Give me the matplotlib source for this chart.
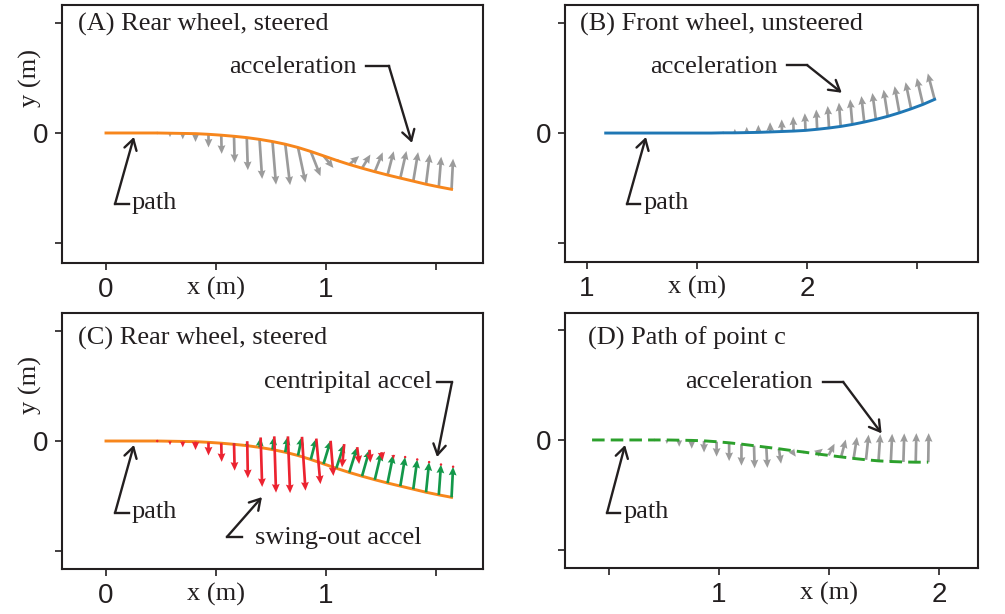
import numpy as np
import matplotlib.pyplot as plt

plt.rcParams['font.family'] = 'Liberation Serif'
ink = '#231f20'

# (A) rear wheel, steered: path points and total acceleration at each point
a_x = [0.000, 0.058, 0.116, 0.175, 0.233, 0.291, 0.349, 0.407, 0.466, 0.524, 0.582, 0.640, 0.698, 0.757,
       0.815, 0.873, 0.931, 0.989, 1.047, 1.106, 1.164, 1.222, 1.280, 1.338, 1.397, 1.455, 1.513, 1.571]
a_y = [0.000, 0.000, 0.000, 0.000, 0.000, -0.001, -0.002, -0.003, -0.006, -0.010, -0.015, -0.021, -0.029, -0.039,
       -0.051, -0.066, -0.084, -0.104, -0.124, -0.143, -0.160, -0.176, -0.191, -0.205, -0.219, -0.233, -0.245, -0.256]
a_ax = [0.0, 0.0, 0.0, 0.0, 0.0, 0.0, 0.0, 0.0, 0.0, 0.002, 0.003, 0.005, 0.012, 0.016,
        0.022, 0.034, 0.044, 0.045, 0.012, 0.045, 0.038, 0.036, 0.028, 0.028, 0.022, 0.017, 0.011, 0.007]
a_ay = [0.0, 0.0, 0.0, 0.0, -0.012, -0.018, -0.027, -0.038, -0.060, -0.085, -0.120, -0.148, -0.180, -0.196,
        -0.186, -0.160, -0.112, -0.055, 0.004, 0.038, 0.062, 0.088, 0.108, 0.123, 0.132, 0.137, 0.137, 0.139]

# (C) same path, split into centripetal (green) and swing-out (red, drawn from green tip)
cen_x = [0.0, 0.0, 0.0, 0.0, 0.0, 0.0, 0.0, 0.0, 0.0, 0.0, 0.0, 0.002, 0.005, 0.008,
         0.012, 0.018, 0.025, 0.032, 0.036, 0.036, 0.034, 0.030, 0.026, 0.022, 0.018, 0.014, 0.010, 0.007]
cen_y = [0.0, 0.0, 0.0, 0.0, 0.0, 0.0, 0.0, 0.0, 0.0, 0.0, 0.005, 0.020, 0.045, 0.060,
         0.072, 0.085, 0.095, 0.105, 0.110, 0.115, 0.120, 0.125, 0.128, 0.132, 0.135, 0.137, 0.138, 0.139]
swg_x = [0.0, 0.0, 0.0, 0.0, 0.0, 0.0, 0.0, 0.0, 0.0, 0.002, 0.003, 0.003, 0.007, 0.008,
         0.010, 0.016, 0.019, 0.013, -0.010, 0.009, 0.004, 0.006, 0.002, 0.006, 0.004, 0.003, 0.001, 0.0]
swg_y = [0.0, 0.0, 0.0, 0.0, -0.012, -0.018, -0.027, -0.038, -0.060, -0.085, -0.125, -0.168, -0.225, -0.256,
         -0.258, -0.245, -0.207, -0.160, -0.106, -0.077, -0.058, -0.037, -0.020, -0.009, -0.004, -0.004, -0.004, -0.004]

# (B) front wheel, unsteered
b_x = [1.085, 1.138, 1.192, 1.245, 1.299, 1.352, 1.405, 1.459, 1.512, 1.566, 1.619, 1.672, 1.726, 1.779, 1.833,
       1.886, 1.939, 1.993, 2.046, 2.100, 2.153, 2.206, 2.260, 2.313, 2.367, 2.420, 2.473, 2.527, 2.580]
b_y = [0.0, 0.0, 0.0, 0.0, 0.0, 0.0, 0.0, 0.0, 0.0, 0.0, 0.001, 0.001, 0.002, 0.003, 0.005,
       0.007, 0.009, 0.012, 0.017, 0.023, 0.030, 0.039, 0.050, 0.062, 0.076, 0.092, 0.110, 0.130, 0.153]
b_ax = [0.0, 0.0, 0.0, 0.0, 0.0, 0.0, 0.0, 0.0, 0.0, 0.0, 0.0, 0.0, 0.0, 0.0, -0.001,
        -0.001, -0.002, -0.003, -0.004, -0.006, -0.008, -0.010, -0.013, -0.016, -0.019, -0.022, -0.025, -0.028, -0.031]
b_ay = [0.0, 0.0, 0.0, 0.0, 0.0, 0.0, 0.0, 0.0, 0.0, 0.0, 0.012, 0.018, 0.026, 0.034, 0.044,
        0.055, 0.066, 0.078, 0.090, 0.100, 0.108, 0.114, 0.118, 0.120, 0.121, 0.121, 0.121, 0.120, 0.118]

# (D) path of point c
d_x = [0.423, 0.480, 0.536, 0.593, 0.649, 0.706, 0.763, 0.819, 0.876, 0.932, 0.989, 1.046, 1.102, 1.159,
       1.215, 1.272, 1.329, 1.385, 1.442, 1.498, 1.555, 1.612, 1.668, 1.725, 1.781, 1.838, 1.894, 1.951]
d_y = [0.0, 0.0, 0.0, 0.0, 0.0, 0.0, 0.0, -0.001, -0.002, -0.004, -0.008, -0.013, -0.019, -0.026,
       -0.033, -0.040, -0.048, -0.055, -0.063, -0.070, -0.077, -0.084, -0.090, -0.095, -0.098, -0.100, -0.101, -0.101]
d_ax = [0.0, 0.0, 0.0, 0.0, 0.0, 0.0, 0.0, 0.0, 0.0, 0.0, 0.0, 0.0, 0.0, 0.003,
        0.005, 0.010, 0.020, 0.010, 0.030, 0.027, 0.021, 0.015, 0.012, 0.008, 0.006, 0.004, 0.003, 0.002]
d_ay = [0.0, 0.0, 0.0, 0.0, 0.0, -0.012, -0.018, -0.030, -0.038, -0.053, -0.068, -0.083, -0.098, -0.103,
        -0.094, -0.068, -0.028, 0.004, 0.023, 0.053, 0.079, 0.098, 0.114, 0.121, 0.126, 0.130, 0.132, 0.132]

fig = plt.figure(figsize=(10.05, 6.14), dpi=100)
FS = 19


def make_axes(rect, xlim, ylim, xticks, xlabels):
    ax = fig.add_axes(rect)
    ax.set_xlim(xlim)
    ax.set_ylim(ylim)
    ax.set_xticks(xticks)
    ax.set_xticklabels(xlabels)
    ax.set_yticks([-0.5, 0, 0.5])
    ax.set_yticklabels(['', '0', ''])
    ax.tick_params(length=5, width=1.2, color=ink, labelcolor=ink, labelsize=20, pad=5)
    for lbl in ax.get_xticklabels() + ax.get_yticklabels():
        if lbl.get_text() == 'x (m)':
            lbl.set_fontfamily('Liberation Serif')
            lbl.set_fontsize(FS)
        else:
            lbl.set_fontfamily('Liberation Sans')
    for s in ax.spines.values():
        s.set_linewidth(1.5)
        s.set_color(ink)
    return ax


def arrows(ax, x, y, u, v, color, z=2):
    x, y, u, v = map(np.asarray, (x, y, u, v))
    keep = np.hypot(u, v) > 0
    ax.quiver(x[keep], y[keep], u[keep], v[keep], color=color, angles='xy', scale_units='xy', scale=1,
              units='dots', width=2.7, headwidth=2.9, headlength=3.2, headaxislength=2.9, zorder=z)


def leader(ax, text, txy, ha, pts):
    ax.text(txy[0], txy[1], text, ha=ha, va='center', fontsize=FS, color=ink)
    (x0, y0), (x1, y1), (x2, y2) = pts
    ax.plot([x0, x1], [y0, y1], color=ink, lw=1.7, solid_capstyle='projecting')
    ax.annotate('', xy=(x2, y2), xytext=(x1, y1),
                arrowprops=dict(arrowstyle='->,head_length=0.5,head_width=0.3', lw=1.7, color=ink,
                                shrinkA=0, shrinkB=0, mutation_scale=15))


gray = '#9b9b9b'

# (A)
ax = make_axes([0.0617, 0.5717, 0.4189, 0.4202], (-0.2, 1.714), (-0.591, 0.582),
               [0, 0.5, 1, 1.5], ['0', 'x (m)', '1', ''])
arrows(ax, a_x, a_y, a_ax, a_ay, gray)
ax.plot(a_x, a_y, color='#f7861c', lw=2.1, zorder=3)
ax.text(0.038, 0.926, '(A) Rear wheel, steered', transform=ax.transAxes, va='center', fontsize=FS, color=ink)
leader(ax, 'acceleration', (1.141, 0.30), 'right', [(1.182, 0.305), (1.286, 0.305), (1.391, -0.045)])
leader(ax, 'path', (0.118, -0.318), 'left', [(0.105, -0.323), (0.041, -0.323), (0.127, -0.018)])

# (B)
ax = make_axes([0.5622, 0.5733, 0.4109, 0.4186], (0.9, 2.777), (-0.586, 0.582),
               [1, 1.5, 2, 2.5], ['1', 'x (m)', '2', ''])
arrows(ax, b_x, b_y, b_ax, b_ay, gray)
ax.plot(b_x, b_y, color='#1f77b4', lw=2.1, zorder=3)
ax.text(0.036, 0.926, '(B) Front wheel, unsteered', transform=ax.transAxes, va='center', fontsize=FS, color=ink)
leader(ax, 'acceleration', (1.868, 0.30), 'right', [(1.909, 0.309), (2.0, 0.309), (2.158, 0.183)])
leader(ax, 'path', (1.255, -0.318), 'left', [(1.241, -0.323), (1.182, -0.323), (1.268, -0.018)])

# (C)
ax = make_axes([0.0617, 0.0733, 0.4189, 0.4169], (-0.2, 1.714), (-0.582, 0.582),
               [0, 0.5, 1, 1.5], ['0', 'x (m)', '1', ''])
ax.plot(a_x, a_y, color='#f7861c', lw=2.1, zorder=1)
arrows(ax, a_x, a_y, cen_x, cen_y, '#13984a', z=2)
arrows(ax, np.add(a_x, cen_x), np.add(a_y, cen_y), swg_x, swg_y, '#ec2330', z=3)
ax.text(0.038, 0.902, '(C) Rear wheel, steered', transform=ax.transAxes, va='center', fontsize=FS, color=ink)
leader(ax, 'centripital accel', (1.482, 0.268), 'right', [(1.505, 0.268), (1.573, 0.268), (1.505, -0.073)])
leader(ax, 'swing-out accel', (0.677, -0.441), 'left', [(0.618, -0.436), (0.55, -0.436), (0.709, -0.255)])
leader(ax, 'path', (0.118, -0.323), 'left', [(0.105, -0.327), (0.041, -0.327), (0.127, -0.018)])

# (D)
ax = make_axes([0.5622, 0.0749, 0.4109, 0.4153], (0.3, 2.177), (-0.582, 0.577),
               [0.5, 1, 1.5, 2], ['', '1', 'x (m)', '2'])
arrows(ax, d_x, d_y, d_ax, d_ay, gray)
ax.plot(d_x, d_y, color='#2ca02c', lw=2.1, dashes=(4.3, 2.1), zorder=3)
ax.text(0.056, 0.902, '(D) Path of point c', transform=ax.transAxes, va='center', fontsize=FS, color=ink)
leader(ax, 'acceleration', (1.427, 0.264), 'right', [(1.473, 0.264), (1.564, 0.264), (1.739, 0.030)])
leader(ax, 'path', (0.564, -0.327), 'left', [(0.55, -0.332), (0.491, -0.332), (0.573, -0.023)])

fig.text(30 / 1005, 1 - 78 / 614, 'y (m)', rotation=90, ha='center', va='center', fontsize=FS, color=ink)
fig.text(30 / 1005, 1 - 385 / 614, 'y (m)', rotation=90, ha='center', va='center', fontsize=FS, color=ink)

fig.savefig('out.png', dpi=100)
